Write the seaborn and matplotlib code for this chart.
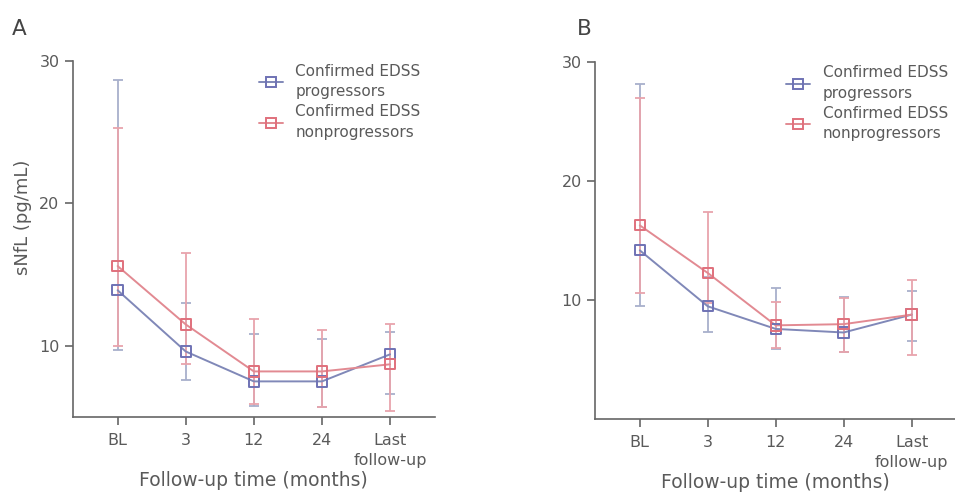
import numpy as np
import pandas as pd
import matplotlib
matplotlib.use("Agg")
import matplotlib.pyplot as plt
import seaborn as sns
from matplotlib.lines import Line2D

# ---------------- data ----------------
timepoints = ["BL", "3", "12", "24", "Last\nfollow-up"]
groups = ["Confirmed EDSS\nprogressors", "Confirmed EDSS\nnonprogressors"]

# Panel A
a_prog_mean = [13.9, 9.6, 7.5, 7.5, 9.4]
a_prog_lo = [9.7, 7.6, 5.8, 5.7, 6.6]
a_prog_hi = [28.7, 13.0, 10.8, 10.5, 11.0]
a_non_mean = [15.6, 11.5, 8.2, 8.2, 8.7]
a_non_lo = [10.0, 8.7, 5.9, 5.7, 5.4]
a_non_hi = [25.3, 16.5, 11.9, 11.1, 11.5]

# Panel B
b_prog_mean = [14.2, 9.5, 7.6, 7.3, 8.8]
b_prog_lo = [9.5, 7.3, 5.9, 5.7, 6.6]
b_prog_hi = [28.2, 12.0, 11.0, 10.3, 10.8]
b_non_mean = [16.3, 12.3, 7.9, 8.0, 8.8]
b_non_lo = [10.6, 9.8, 6.0, 5.7, 5.4]
b_non_hi = [27.0, 17.4, 9.9, 10.2, 11.7]

panel_labels = ["A", "B"]
y_label = "sNfL (pg/mL)"
x_label = "Follow-up time (months)"


def make_df(pm, pl, ph, nm, nl, nh):
    rows = []
    for i, t in enumerate(timepoints):
        rows.append(dict(pos=i, time=t, group=groups[0], mean=pm[i], lo=pl[i], hi=ph[i]))
        rows.append(dict(pos=i, time=t, group=groups[1], mean=nm[i], lo=nl[i], hi=nh[i]))
    return pd.DataFrame(rows)


dfA = make_df(a_prog_mean, a_prog_lo, a_prog_hi, a_non_mean, a_non_lo, a_non_hi)
dfB = make_df(b_prog_mean, b_prog_lo, b_prog_hi, b_non_mean, b_non_lo, b_non_hi)

# ---------------- style ----------------
sns.set_theme(style="ticks")
plt.rcParams["font.family"] = ["DejaVu Sans"]

line_colors = {groups[0]: "#8088b8", groups[1]: "#e28a92"}
marker_colors = {groups[0]: "#6f72b4", groups[1]: "#e0707c"}
err_colors = {groups[0]: "#a8b0cc", groups[1]: "#e8a4ac"}
axis_color = "#666666"
text_color = "#5a5a5a"

fig = plt.figure(figsize=(9.55, 4.94), dpi=100)
axA = fig.add_axes([0.0761, 0.1559, 0.3794, 0.7206])
axB = fig.add_axes([0.6230, 0.1510, 0.3785, 0.7230])


def draw(ax, df, ylim, yticks, leg_x):
    for g in groups:
        sub = df[df.group == g]
        ax.errorbar(sub["pos"], sub["mean"],
                    yerr=[sub["mean"] - sub["lo"], sub["hi"] - sub["mean"]],
                    fmt="none", ecolor=err_colors[g], elinewidth=1.3,
                    capsize=3.5, capthick=1.3, zorder=1)
    sns.lineplot(data=df, x="pos", y="mean", hue="group", hue_order=groups,
                 palette=line_colors, linewidth=1.4, legend=False, ax=ax,
                 zorder=2, sort=True)
    for g in groups:
        sub = df[df.group == g]
        sns.scatterplot(x=sub["pos"], y=sub["mean"], marker="s", s=55,
                        facecolor="none", edgecolor=marker_colors[g],
                        linewidth=1.4, ax=ax, zorder=3, legend=False)
    ax.set_xlim(-0.66, 4.66)
    ax.set_ylim(*ylim)
    ax.set_yticks(yticks)
    ax.set_xticks(range(len(timepoints)))
    ax.set_xticklabels(timepoints, fontsize=11.5, color=text_color, linespacing=1.4)
    ax.set_yticklabels([str(v) for v in yticks], fontsize=11.5, color=text_color)
    ax.set_ylabel("")
    sns.despine(ax=ax)
    for s in ["left", "bottom"]:
        ax.spines[s].set_color(axis_color)
        ax.spines[s].set_linewidth(1.2)
    ax.tick_params(axis="both", colors=axis_color, width=1.2, length=5.5,
                   pad=4, labelcolor=text_color)
    ax.tick_params(axis="x", pad=6)
    ax.set_xlabel(x_label, fontsize=13.5, color=text_color, labelpad=2)
    handles = [Line2D([0], [0], color=line_colors[g], lw=1.4, marker="s",
                      markersize=6.5, markerfacecolor="none",
                      markeredgecolor=marker_colors[g], markeredgewidth=1.4)
               for g in groups]
    leg = ax.legend(handles, groups, loc="upper left",
                    bbox_to_anchor=(leg_x, 1.03), frameon=False, fontsize=11,
                    handlelength=1.6, handletextpad=0.8, labelspacing=0.32,
                    labelcolor=text_color)
    for t in leg.get_texts():
        t.set_linespacing(1.45)


draw(axA, dfA, (5, 30), [10, 20, 30], 0.475)
draw(axB, dfB, (0, 30), [10, 20, 30], 0.49)
axA.set_ylabel(y_label, fontsize=13, color=text_color)
axA.yaxis.set_label_coords(-0.112, 0.56)

fig.text(12 / 955, 1 - 29 / 494, panel_labels[0], fontsize=15.5, color="#444444",
         ha="left", va="center")
fig.text(577 / 955, 1 - 29 / 494, panel_labels[1], fontsize=15.5, color="#444444",
         ha="left", va="center")

fig.savefig("out.png", dpi=100)
